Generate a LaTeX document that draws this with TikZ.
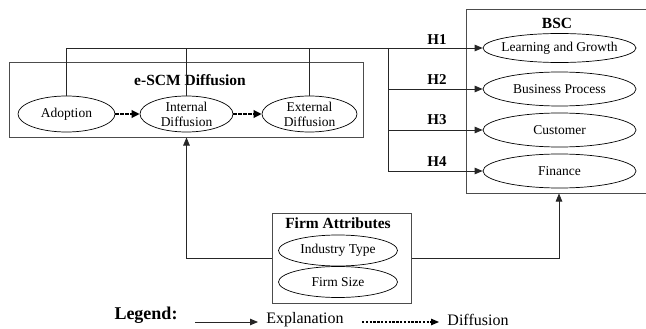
\documentclass[tikz,border=0pt]{standalone}
\usepackage{fontspec}
\setmainfont{Liberation Serif}
\usetikzlibrary{arrows.meta,shapes.geometric}
\tikzset{
  box/.style={draw=black!70, line width=1pt, rectangle, inner sep=0pt},
  ell/.style={draw=black, line width=0.7pt, ellipse, inner sep=0pt},
  etext/.style={font=\fontsize{13.5}{15}\selectfont, align=center},
  ttl/.style={font=\fontsize{15.5}{18}\selectfont\bfseries},
  hlab/.style={font=\fontsize{15}{18}\selectfont\bfseries},
  ltext/.style={font=\fontsize{16}{18}\selectfont, inner sep=1pt},
  conn/.style={draw=black!85, line width=0.8pt},
  arr/.style={conn, -{Triangle[length=8pt,width=6.5pt]}},
  darr/.style={draw=black, line width=2pt, dash pattern=on 3.2pt off 1.8pt, -{Triangle[length=8pt,width=7.5pt]}},
  ldarr/.style={draw=black, line width=1.2pt, dash pattern=on 2.4pt off 1.4pt, -{Triangle[length=8pt,width=6.5pt]}},
}
\begin{document}
\begin{tikzpicture}[x=1pt,y=-1pt]
\useasboundingbox (0,0) rectangle (646,329);
% boxes
\node[box, minimum width=354pt, minimum height=74pt] (escm) at (186,100) {};
\node[ttl] (escmt) at (190,80) {e-SCM Diffusion};
\node[box, minimum width=190pt, minimum height=183pt] (bsc) at (561,101.5) {};
\node[ttl] (bsct) at (557,23) {BSC};
\node[box, minimum width=139pt, minimum height=90pt] (firm) at (341.5,258) {};
\node[ttl] (firmt) at (338,223) {Firm Attributes};
% e-SCM ellipses
\node[ell, minimum width=97pt, minimum height=36pt, label={[etext]center:Adoption}] (adopt) at (66.5,114) {};
\node[ell, minimum width=93pt, minimum height=36pt, label={[etext]center:Internal\\Diffusion}] (int) at (186.5,114) {};
\node[ell, minimum width=95pt, minimum height=36pt, label={[etext]center:External\\Diffusion}] (ext) at (309.5,114) {};
% BSC ellipses
\node[ell, minimum width=153pt, minimum height=29pt, label={[etext]center:Learning and Growth}] (lg) at (559.5,48) {};
\node[ell, minimum width=153pt, minimum height=34pt, label={[etext]center:Business Process}] (bp) at (559.5,89) {};
\node[ell, minimum width=153pt, minimum height=34pt, label={[etext]center:Customer}] (cu) at (559.5,130) {};
\node[ell, minimum width=153pt, minimum height=34pt, label={[etext]center:Finance}] (fi) at (559.5,171) {};
% firm ellipses
\node[ell, minimum width=119pt, minimum height=31pt, label={[etext]center:Industry Type}] (ind) at (338,250.5) {};
\node[ell, minimum width=119pt, minimum height=31pt, label={[etext]center:Firm Size}] (fs) at (338,282) {};
% diffusion arrows
\draw[darr] (adopt.east) -- (int.west);
\draw[darr] (int.east) -- (ext.west);
% top connectors
\coordinate (jtop) at (388,48);
\coordinate (jbot) at (388,171);
\draw[arr] (adopt.north) |- (lg.west);
\draw[conn] (int.north) -- (int.north |- lg.west);
\draw[conn] (ext.north) -- (ext.north |- lg.west);
\draw[conn] (jtop) -- (jbot);
\draw[arr] (jtop |- bp.west) -- (bp.west);
\draw[arr] (jtop |- cu.west) -- (cu.west);
\draw[arr] (jbot) -- (fi.west);
\node[hlab] (h1) at (437,40) {H1};
\node[hlab] (h2) at (437,80) {H2};
\node[hlab] (h3) at (437,120) {H3};
\node[hlab] (h4) at (437,162) {H4};
% firm attributes connectors
\draw[arr] (firm.west) -| (int.south |- escm.south);
\draw[arr] (firm.east) -| (bsc.south -| 559,0);
% legend
\node[font=\fontsize{18}{20}\selectfont\bfseries, inner sep=1pt] (leg) at (146,315) {Legend:};
\coordinate (la1) at (195,322);
\coordinate (la2) at (258,322);
\draw[arr] (la1) -- (la2);
\node[ltext] (lexp) at (305,319.5) {Explanation};
\coordinate (lb1) at (362,322);
\coordinate (lb2) at (439,322);
\draw[ldarr] (lb1) -- (lb2);
\node[ltext] (ldif) at (478,319.5) {Diffusion};
\end{tikzpicture}
\end{document}
